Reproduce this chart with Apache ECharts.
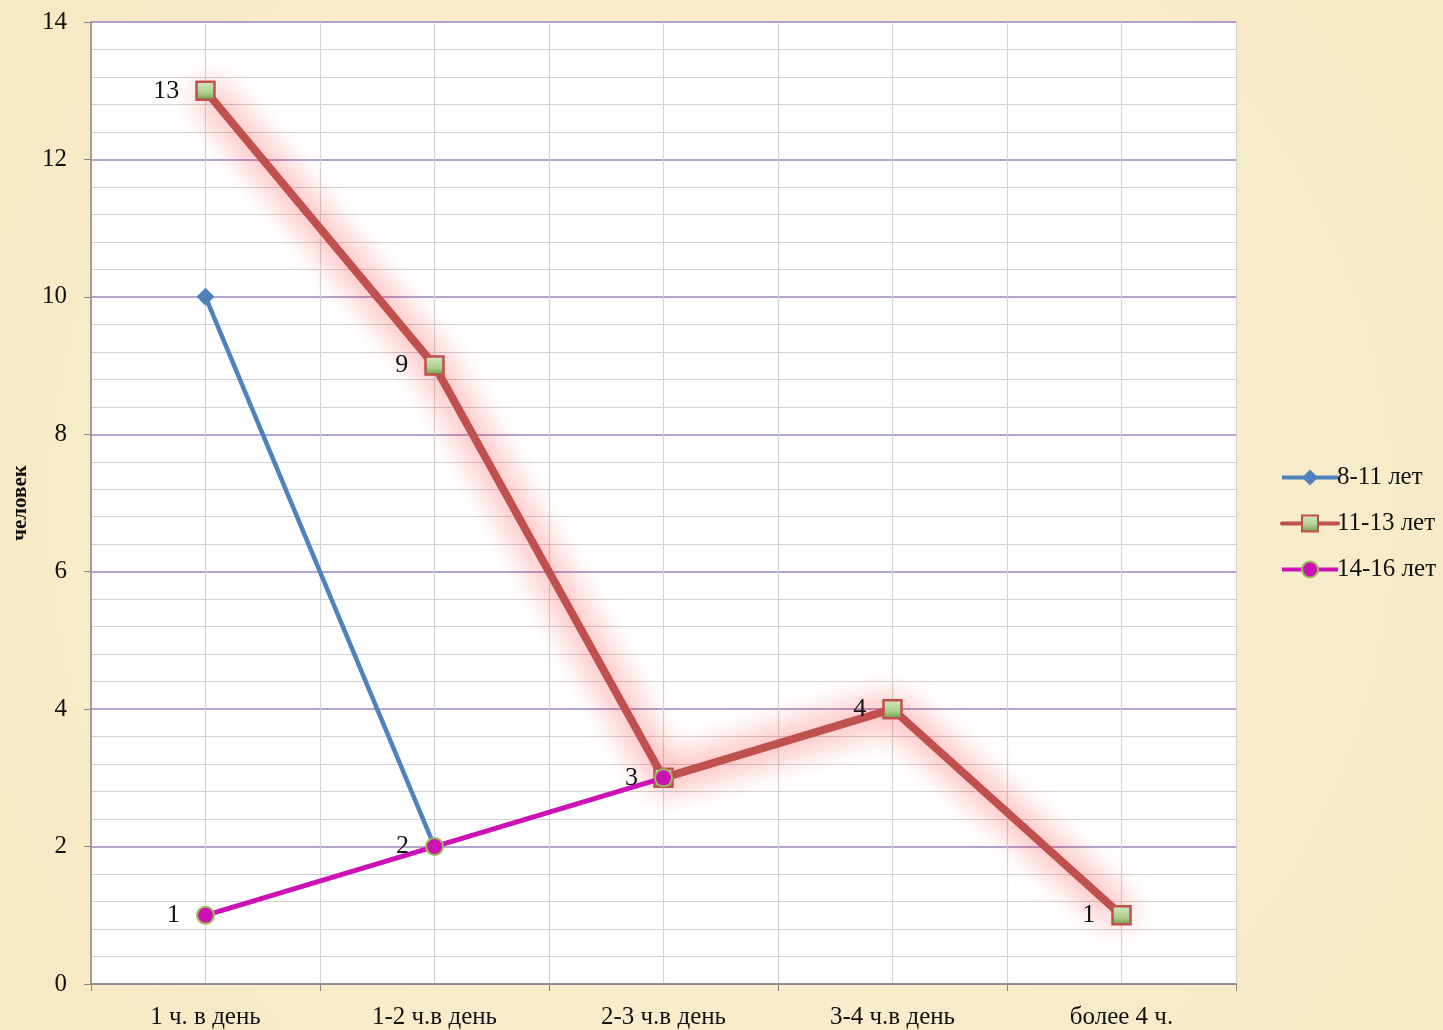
<!DOCTYPE html>
<html><head><meta charset="utf-8">
<script src="https://cdn.jsdelivr.net/npm/echarts@6/dist/echarts.min.js"></script>
<style>html,body{margin:0;padding:0;}#c{width:1443px;height:1030px;}</style>
</head><body><div id="c"></div>
<script>
const categories = ['1 ч. в день', '1-2 ч.в день', '2-3 ч.в день', '3-4 ч.в день', 'более 4 ч.'];
const seriesNames = ['8-11 лет', '11-13 лет', '14-16 лет'];
const s8_11 = [10, 2, null, null, null];
const s11_13 = [13, 9, 3, 4, 1];
const s14_16 = [1, 2, 3, null, null];
const yTicks = { min: 0, max: 14, interval: 2 };

const serif = '"Liberation Serif", "DejaVu Serif", serif';
const chart = echarts.init(document.getElementById('c'));
const labelStyle = { show: true, position: 'left', distance: 16, color: '#111', fontFamily: serif, fontSize: 26 };
chart.setOption({
  backgroundColor: new echarts.graphic.RadialGradient(0.5, 0.5, 0.8, [
    { offset: 0, color: '#fbf2d9' }, { offset: 1, color: '#f7e9c4' }]),
  animation: false,
  grid: { left: 91, right: 207, top: 22, bottom: 46, show: true, backgroundColor: '#ffffff', borderWidth: 0 },
  legend: {
    orient: 'vertical', left: 1275, top: 460, itemGap: 21, itemWidth: 56, itemHeight: 20,
    data: seriesNames,
    lineStyle: { width: 4 },
    textStyle: { fontFamily: serif, fontSize: 25, color: '#111', padding: [0, 0, 0, -6] }
  },
  xAxis: [{
    type: 'category', data: categories, boundaryGap: true,
    axisLine: { lineStyle: { color: '#888', width: 1.5 } },
    axisTick: { show: true, length: 7, lineStyle: { color: '#888' } },
    axisLabel: { fontFamily: serif, fontSize: 25, color: '#111', margin: 21 },
    splitLine: { show: false }
  }, {
    type: 'value', min: 0, max: 10, interval: 1, position: 'top',
    axisLine: { show: false }, axisTick: { show: false }, axisLabel: { show: false },
    splitLine: { show: true, lineStyle: { color: '#d4d4d4', width: 1.2 } }
  }],
  yAxis: {
    type: 'value', min: yTicks.min, max: yTicks.max, interval: yTicks.interval,
    name: 'человек', nameLocation: 'middle', nameGap: 58, nameRotate: 90,
    nameTextStyle: { fontFamily: serif, fontSize: 21, fontWeight: 'bold', color: '#111' },
    axisLine: { show: true, lineStyle: { color: '#888', width: 1.5 } },
    axisTick: { show: true, length: 7, lineStyle: { color: '#888' } },
    axisLabel: { fontFamily: serif, fontSize: 25, color: '#111', margin: 24 },
    splitLine: { show: true, lineStyle: { color: '#9b84c4', width: 1.5 } },
    minorTick: { show: false, splitNumber: 5 },
    minorSplitLine: { show: true, lineStyle: { color: '#d2d2d2', width: 1.2 } }
  },
  series: [{
    name: seriesNames[0], type: 'line', data: s8_11, z: 3,
    symbol: 'diamond', symbolSize: 18,
    lineStyle: { color: '#4f81bd', width: 4.5 },
    itemStyle: { color: '#4f81bd' }
  }, {
    name: seriesNames[1], type: 'line', data: s11_13, z: 2,
    symbol: 'rect', symbolSize: 18,
    lineStyle: { color: '#c0504d', width: 8, cap: 'round', shadowBlur: 34, shadowColor: 'rgba(255,10,10,1)' },
    itemStyle: {
      color: new echarts.graphic.LinearGradient(0, 0, 0, 1, [
        { offset: 0, color: '#d6e9c2' }, { offset: 0.6, color: '#acd08e' }, { offset: 1, color: '#5e9a3a' }]),
      borderColor: '#c0504d', borderWidth: 2.5
    },
    label: Object.assign({}, labelStyle, { formatter: p => p.dataIndex === 2 ? '' : p.value })
  }, {
    name: seriesNames[2], type: 'line', data: s14_16, z: 4,
    symbol: 'circle', symbolSize: 17,
    lineStyle: { color: '#cc12b4', width: 5 },
    itemStyle: { color: '#cc12b4', borderColor: '#9bbb59', borderWidth: 2 },
    label: labelStyle
  }]
});
</script></body></html>
